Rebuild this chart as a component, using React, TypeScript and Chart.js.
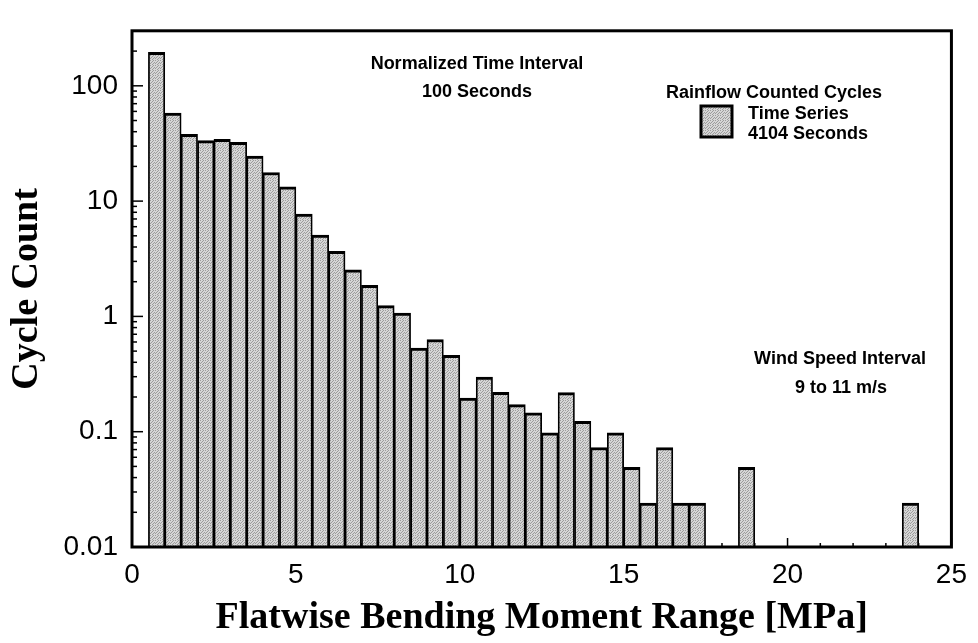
import React, { useEffect, useRef } from 'react';
import { Chart, registerables } from 'chart.js';

Chart.register(...registerables);

// Bin centres of the rainflow histogram (MPa), 0.5 MPa wide bins
const binCenters = [
  0.75, 1.25, 1.75, 2.25, 2.75, 3.25, 3.75, 4.25, 4.75, 5.25,
  5.75, 6.25, 6.75, 7.25, 7.75, 8.25, 8.75, 9.25, 9.75, 10.25,
  10.75, 11.25, 11.75, 12.25, 12.75, 13.25, 13.75, 14.25, 14.75, 15.25,
  15.75, 16.25, 16.75, 17.25, 18.75, 23.75,
];

// Normalized cycle counts per 100 s
const cycleCounts = [
  195, 58, 38, 33.5, 34.3, 32.4, 24.6, 17.7, 13.3, 7.7,
  5.07, 3.66, 2.53, 1.86, 1.24, 1.07, 0.53, 0.63, 0.46, 0.196,
  0.297, 0.22, 0.172, 0.146, 0.098, 0.218, 0.123, 0.073, 0.098, 0.049,
  0.024, 0.073, 0.024, 0.024, 0.049, 0.024,
];

const yTickValues = [0.01, 0.1, 1, 10, 100];
const yTickLabels = ['0.01', '0.1', '1', '10', '100'];
const xTickValues = [0, 5, 10, 15, 20, 25];

const xTitle = 'Flatwise Bending Moment Range [MPa]';
const yTitle = 'Cycle Count';
const normLines = ['Normalized Time Interval', '100 Seconds'];
const legendTitle = 'Rainflow Counted Cycles';
const legendLines = ['Time Series', '4104 Seconds'];
const windLines = ['Wind Speed Interval', '9 to 11 m/s'];

const SANS = '"Liberation Sans", Arial, sans-serif';
const SERIF = '"Liberation Serif", "Times New Roman", serif';

// ordered stipple tile for the bar fill (1 = dark dot)
const stippleTile = [
  [1, 0, 0, 1, 0],
  [0, 0, 1, 0, 0],
  [0, 1, 0, 0, 1],
  [1, 0, 0, 1, 0],
  [0, 0, 1, 0, 0],
];

function makeStipple(): CanvasPattern | string {
  const c = document.createElement('canvas');
  c.width = stippleTile[0].length;
  c.height = stippleTile.length;
  const g = c.getContext('2d');
  if (!g) return '#c2c2c2';
  for (let r = 0; r < stippleTile.length; r++) {
    for (let q = 0; q < stippleTile[r].length; q++) {
      g.fillStyle = stippleTile[r][q] ? '#9c9c9c' : '#d6d6d6';
      g.fillRect(q, r, 1, 1);
    }
  }
  const p = g.createPattern(c, 'repeat');
  return p || '#c2c2c2';
}

function makeDecorPlugin(fill: CanvasPattern | string) {
  return {
    id: 'decor',
    beforeDatasetsDraw(chart: any) {
      const { ctx, chartArea: a, scales } = chart;
      const x = scales.x;
      const y = scales.y;
      ctx.save();
      ctx.strokeStyle = '#000';
      ctx.lineWidth = 1.5;
      for (let e = -2; e <= 2; e++) {
        for (let k = 1; k <= 9; k++) {
          const v = k * Math.pow(10, e);
          if (v < y.min * 0.999 || v > y.max) continue;
          const py = y.getPixelForValue(v);
          const len = k === 1 ? 11 : 5;
          ctx.beginPath();
          ctx.moveTo(a.left, py);
          ctx.lineTo(a.left + len, py);
          ctx.stroke();
        }
      }
      for (let v = 0; v <= 25; v++) {
        const px = x.getPixelForValue(v);
        const len = xTickValues.includes(v) ? 9 : 4;
        ctx.beginPath();
        ctx.moveTo(px, a.bottom);
        ctx.lineTo(px, a.bottom - len);
        ctx.stroke();
      }
      ctx.restore();
    },
    afterDatasetsDraw(chart: any) {
      const { ctx, chartArea: a } = chart;
      ctx.save();
      ctx.strokeStyle = '#000';
      ctx.lineWidth = 3;
      ctx.strokeRect(a.left, a.top, a.right - a.left, a.bottom - a.top);

      ctx.fillStyle = '#000';
      ctx.font = `bold 18px ${SANS}`;
      ctx.textAlign = 'center';
      ctx.textBaseline = 'middle';
      ctx.fillText(normLines[0], 477, 64);
      ctx.fillText(normLines[1], 477, 92);
      ctx.fillText(legendTitle, 774, 93);
      ctx.fillText(windLines[0], 840, 359);
      ctx.fillText(windLines[1], 841, 388);

      ctx.textAlign = 'left';
      ctx.fillText(legendLines[0], 748, 114);
      ctx.fillText(legendLines[1], 748, 134);

      ctx.fillStyle = fill;
      ctx.fillRect(701, 106, 31, 31);
      ctx.lineWidth = 3;
      ctx.strokeRect(701, 106, 31, 31);
      ctx.restore();
    },
  };
}

export default function App() {
  const canvasRef = useRef<HTMLCanvasElement | null>(null);

  useEffect(() => {
    document.body.style.margin = '0';
    const canvas = canvasRef.current;
    if (!canvas) return;
    const fill = makeStipple();
    const chart = new Chart(canvas, {
      type: 'bar',
      data: {
        datasets: [
          {
            label: 'Time Series 4104 Seconds',
            data: binCenters.map((c, i) => ({ x: c, y: cycleCounts[i] })),
            backgroundColor: fill as any,
            borderColor: '#000',
            borderWidth: { top: 3, left: 1.75, right: 1.75, bottom: 0 } as any,
            barPercentage: 1,
            categoryPercentage: 1,
          },
        ],
      },
      options: {
        responsive: false,
        animation: false,
        devicePixelRatio: 1,
        layout: { padding: { left: 0, top: 8, right: 22, bottom: 0 } },
        plugins: {
          legend: { display: false },
          tooltip: { enabled: false },
          title: { display: false },
        },
        scales: {
          x: {
            type: 'linear',
            min: 0,
            max: 25,
            offset: false,
            grid: { display: false, drawTicks: false },
            border: { display: false },
            ticks: {
              stepSize: 5,
              padding: 11,
              color: '#000',
              font: { size: 28, family: SANS },
              maxRotation: 0,
            },
            afterBuildTicks: (scale: any) => {
              scale.ticks = xTickValues.map((v) => ({ value: v }));
            },
            afterFit: (scale: any) => {
              scale.height = 96;
            },
            title: {
              display: true,
              text: xTitle,
              color: '#000',
              font: { size: 38, family: SERIF, weight: 'bold' },
              padding: { top: 0, bottom: 2 },
            },
          },
          y: {
            type: 'logarithmic',
            min: 0.01,
            max: 300,
            grid: { display: false, drawTicks: false },
            border: { display: false },
            ticks: {
              padding: 14,
              color: '#000',
              font: { size: 28, family: SANS },
              callback: (v: any) => {
                const i = yTickValues.findIndex((t) => Math.abs(t - Number(v)) < 1e-9 * Math.max(1, t));
                return i >= 0 ? yTickLabels[i] : '';
              },
            },
            afterBuildTicks: (scale: any) => {
              scale.ticks = yTickValues.map((v) => ({ value: v }));
            },
            afterFit: (scale: any) => {
              scale.width = 132;
            },
            title: {
              display: true,
              text: yTitle,
              color: '#000',
              font: { size: 38, family: SERIF, weight: 'bold' },
              padding: { top: 4, bottom: 0 },
            },
          },
        },
      },
      plugins: [makeDecorPlugin(fill)],
    });
    return () => chart.destroy();
  }, []);

  return (
    <div style={{ position: 'absolute', left: 0, top: 0, width: 978, height: 643 }}>
      <canvas ref={canvasRef} width={978} height={643} />
    </div>
  );
}
